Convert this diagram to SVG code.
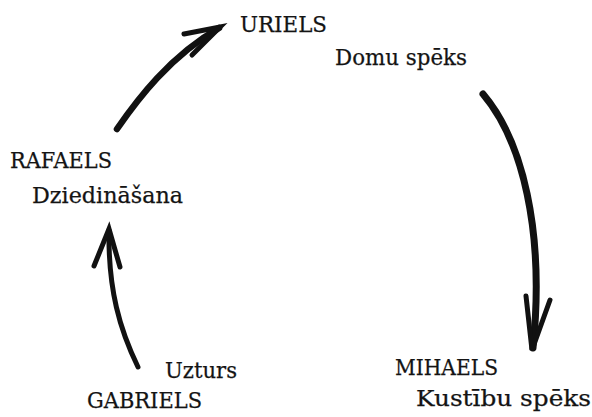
<svg xmlns="http://www.w3.org/2000/svg" width="592" height="417" viewBox="0 0 592 417">
<style>
  text { font-family: "DejaVu Serif", "Liberation Serif", serif; font-size: 23px; fill: #141414; stroke: #141414; stroke-width: 0.25; }
  .shaft { fill: none; stroke: #111; stroke-linecap: round; stroke-linejoin: round; }
  .head { fill: none; stroke: #111; stroke-width: 5; stroke-linecap: round; stroke-linejoin: miter; }
</style>
<rect width="592" height="417" fill="#ffffff"/>
<g id="connectors">
  <g id="arrow-rafaels-uriels">
    <path class="shaft" stroke-width="6.5" d="M117,129 C137,100 170,56 219,28"/>
    <path class="head" d="M184,34 L220,27 L192,55"/>
  </g>
  <g id="arrow-uriels-mihaels">
    <path class="shaft" stroke-width="7" d="M483,94 C522,140 545,230 533,348"/>
    <path class="head" stroke-width="5.5" d="M526,296 L532,350 L550,300"/>
  </g>
  <g id="arrow-gabriels-rafaels">
    <path class="shaft" stroke-width="5" d="M138,367 C120,330 108,290 109,230"/>
    <path class="head" stroke-width="4.5" d="M94,266 L109,229 L120,267"/>
  </g>
</g>
<g id="uriels">
  <text x="240" y="32" textLength="87" lengthAdjust="spacingAndGlyphs">URIELS</text>
  <text x="335" y="65" textLength="132" lengthAdjust="spacingAndGlyphs">Domu spēks</text>
</g>
<g id="mihaels">
  <text x="395" y="375" textLength="103" lengthAdjust="spacingAndGlyphs">MIHAELS</text>
  <text x="416" y="406" textLength="175" lengthAdjust="spacingAndGlyphs">Kustību spēks</text>
</g>
<g id="gabriels">
  <text x="165" y="378" textLength="72" lengthAdjust="spacingAndGlyphs">Uzturs</text>
  <text x="87" y="408" textLength="115" lengthAdjust="spacingAndGlyphs">GABRIELS</text>
</g>
<g id="rafaels">
  <text x="10" y="168" textLength="102" lengthAdjust="spacingAndGlyphs">RAFAELS</text>
  <text x="32" y="203" textLength="151" lengthAdjust="spacingAndGlyphs">Dziedināšana</text>
</g>
</svg>
